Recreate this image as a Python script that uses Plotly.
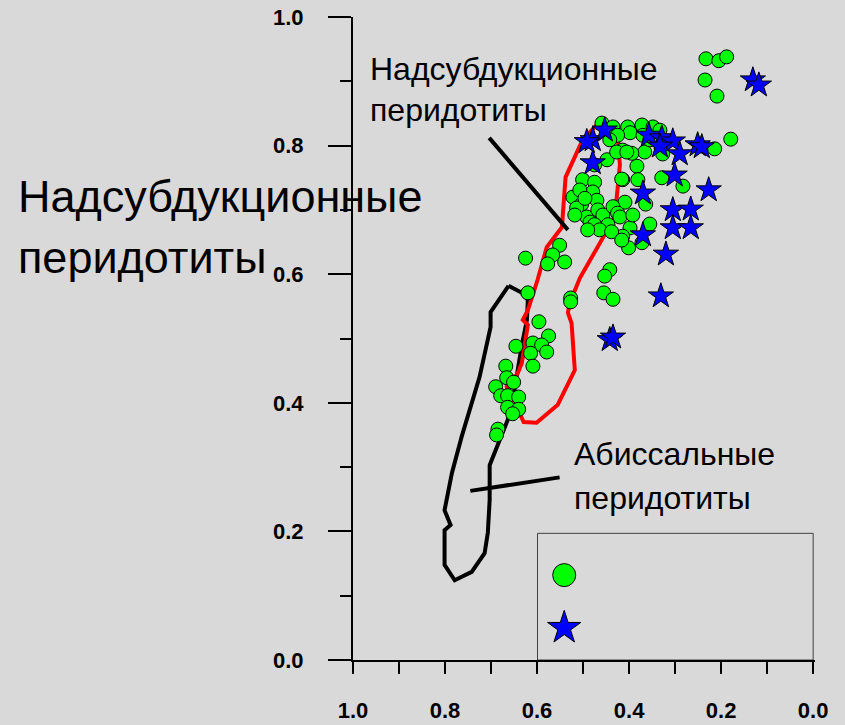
import plotly.graph_objects as go

# ---- data (x = first ratio, reversed axis; y = second ratio) ----
circle_x = [0.233, 0.205, 0.188, 0.235, 0.209, 0.179, 0.214, 0.283, 0.329, 0.364,
            0.355, 0.398, 0.414, 0.401, 0.372, 0.383, 0.414, 0.409, 0.366, 0.394,
            0.414, 0.403, 0.372, 0.348, 0.333, 0.398, 0.459, 0.435, 0.425, 0.370,
            0.448, 0.427, 0.405, 0.327, 0.416, 0.501, 0.475, 0.522, 0.503, 0.479,
            0.470, 0.514, 0.492, 0.485, 0.468, 0.457, 0.435, 0.425, 0.446, 0.420,
            0.442, 0.453, 0.551, 0.566, 0.577, 0.540, 0.625, 0.455, 0.435, 0.527,
            0.527, 0.620, 0.596, 0.575, 0.646, 0.609, 0.590, 0.579, 0.614, 0.609,
            0.668, 0.666, 0.651, 0.690, 0.679, 0.664, 0.640, 0.664, 0.640, 0.653,
            0.685, 0.688, 0.507, 0.496, 0.518, 0.475, 0.464, 0.438, 0.416, 0.392,
            0.381, 0.442, 0.355, 0.475, 0.490]
circle_y = [0.935, 0.932, 0.938, 0.902, 0.877, 0.810, 0.795, 0.737, 0.750, 0.709,
            0.678, 0.672, 0.659, 0.641, 0.649, 0.768, 0.747, 0.712, 0.790, 0.788,
            0.793, 0.829, 0.832, 0.829, 0.824, 0.820, 0.835, 0.829, 0.816, 0.816,
            0.778, 0.790, 0.790, 0.787, 0.748, 0.747, 0.743, 0.720, 0.709, 0.728,
            0.715, 0.703, 0.689, 0.681, 0.700, 0.692, 0.705, 0.695, 0.677, 0.689,
            0.607, 0.597, 0.645, 0.630, 0.616, 0.619, 0.625, 0.571, 0.561, 0.563,
            0.557, 0.571, 0.526, 0.504, 0.488, 0.493, 0.490, 0.479, 0.477, 0.457,
            0.457, 0.439, 0.432, 0.425, 0.411, 0.411, 0.409, 0.393, 0.390, 0.383,
            0.359, 0.350, 0.731, 0.718, 0.692, 0.677, 0.669, 0.666, 0.653, 0.692,
            0.747, 0.809, 0.809, 0.770, 0.669]

star_x = [0.131, 0.118, 0.479, 0.453, 0.479, 0.357, 0.329, 0.305, 0.290, 0.251,
          0.242, 0.301, 0.227, 0.370, 0.305, 0.266, 0.305, 0.266, 0.370, 0.320,
          0.331, 0.442, 0.435, 0.492, 0.333]
star_y = [0.902, 0.894, 0.809, 0.824, 0.773, 0.816, 0.812, 0.807, 0.787, 0.801,
          0.798, 0.754, 0.731, 0.726, 0.700, 0.701, 0.672, 0.672, 0.661, 0.631,
          0.566, 0.498, 0.502, 0.806, 0.799]

# field outlines
abyssal_x = [0.662, 0.633, 0.620, 0.622, 0.633, 0.642, 0.651, 0.664, 0.685, 0.703,
             0.703, 0.707, 0.714, 0.742, 0.779, 0.801, 0.801, 0.788, 0.801, 0.785,
             0.764, 0.725, 0.701, 0.701, 0.662]
abyssal_y = [0.582, 0.571, 0.560, 0.529, 0.490, 0.451, 0.412, 0.373, 0.334, 0.303,
             0.249, 0.198, 0.166, 0.137, 0.124, 0.148, 0.202, 0.210, 0.233, 0.291,
             0.347, 0.440, 0.518, 0.541, 0.582]
ssz_x = [0.501, 0.538, 0.546, 0.579, 0.599, 0.620, 0.631, 0.620, 0.633, 0.642,
         0.666, 0.638, 0.629, 0.601, 0.555, 0.518, 0.525, 0.533, 0.529, 0.507,
         0.457, 0.431, 0.420, 0.425, 0.464, 0.501]
ssz_y = [0.809, 0.751, 0.673, 0.642, 0.591, 0.544, 0.529, 0.521, 0.462, 0.446,
         0.425, 0.384, 0.370, 0.369, 0.397, 0.451, 0.524, 0.540, 0.555, 0.594,
         0.658, 0.689, 0.770, 0.817, 0.837, 0.809]

# label leader lines
leader_ssz_x = [0.704, 0.533]
leader_ssz_y = [0.812, 0.669]
leader_aby_x = [0.745, 0.551]
leader_aby_y = [0.263, 0.284]

# legend box and symbols
legend_box_x = [0.599, 0.0]
legend_box_y = [0.0, 0.197]
legend_circle = (0.541, 0.132)
legend_star = (0.541, 0.050)

x_ticks = [1.0, 0.8, 0.6, 0.4, 0.2, 0.0]
y_ticks = [0.0, 0.2, 0.4, 0.6, 0.8, 1.0]

label_top = ["Надсубдукционные", "перидотиты"]
label_bottom = ["Абиссальные", "перидотиты"]
label_left = ["Надсубдукционные", "перидотиты"]

GREEN = "#00ff00"
BLUE = "#0000ff"
BG = "#d9d9d9"
FONT = "Liberation Sans, Arial, sans-serif"

fig = go.Figure()

fig.add_trace(go.Scatter(x=abyssal_x, y=abyssal_y, mode="lines",
                         line=dict(color="black", width=4), hoverinfo="skip"))
fig.add_trace(go.Scatter(x=ssz_x, y=ssz_y, mode="lines",
                         line=dict(color="#ff0000", width=4), hoverinfo="skip"))
fig.add_trace(go.Scatter(x=leader_ssz_x, y=leader_ssz_y, mode="lines",
                         line=dict(color="black", width=4), hoverinfo="skip"))
fig.add_trace(go.Scatter(x=leader_aby_x, y=leader_aby_y, mode="lines",
                         line=dict(color="black", width=4), hoverinfo="skip"))

fig.add_trace(go.Scatter(x=circle_x, y=circle_y, mode="markers",
                         marker=dict(symbol="circle", size=14, color=GREEN,
                                     line=dict(color="black", width=1))))
fig.add_trace(go.Scatter(x=star_x, y=star_y, mode="markers",
                         marker=dict(symbol="star", size=19, color=BLUE,
                                     line=dict(color="black", width=1))))

# legend symbols
fig.add_trace(go.Scatter(x=[legend_circle[0]], y=[legend_circle[1]], mode="markers",
                         marker=dict(symbol="circle", size=23, color=GREEN,
                                     line=dict(color="black", width=1))))
fig.add_trace(go.Scatter(x=[legend_star[0]], y=[legend_star[1]], mode="markers",
                         marker=dict(symbol="star", size=25, color=BLUE,
                                     line=dict(color="black", width=1))))

fig.add_shape(type="rect", xref="x", yref="y",
              x0=legend_box_x[0], x1=legend_box_x[1],
              y0=legend_box_y[0], y1=legend_box_y[1],
              line=dict(color="#404040", width=1), layer="below")

# plot area: left 353, right 815, top 17, bottom 660 (pixels)
PL, PR, PT, PB = 353, 815, 17, 660

def add_label(text, px, py_center, size):
    fig.add_annotation(text=text, xref="paper", yref="paper",
                       x=(px - PL) / (PR - PL), y=(PB - py_center) / (PB - PT),
                       xanchor="left", yanchor="middle", showarrow=False,
                       font=dict(family=FONT, size=size, color="black"))

add_label(label_top[0], 368, 69, 32)
add_label(label_top[1], 368, 110, 32)
add_label(label_bottom[0], 572, 454, 32)
add_label(label_bottom[1], 572, 498, 32)
add_label(label_left[0], 16, 196, 45)
add_label(label_left[1], 16, 257, 45)

axis_common = dict(showgrid=False, zeroline=False, showline=True, linecolor="black",
                   linewidth=2, ticks="outside", tickcolor="black", tickwidth=2,
                   tickformat=".1f", tickmode="array", automargin=False,
                   tickfont=dict(family=FONT, size=22, color="black", weight="bold"))

fig.update_xaxes(range=[1.0, -0.004], tickvals=x_ticks, ticklen=12,
                 ticklabelstandoff=18,
                 minor=dict(dtick=0.1, tick0=0, ticks="outside", ticklen=12,
                            tickwidth=2, tickcolor="black", showgrid=False),
                 **axis_common)
fig.update_yaxes(range=[0.0, 1.0], tickvals=y_ticks, ticklen=23,
                 ticklabelstandoff=20,
                 minor=dict(dtick=0.1, tick0=0, ticks="outside", ticklen=11,
                            tickwidth=2, tickcolor="black", showgrid=False),
                 **axis_common)

fig.update_layout(width=845, height=725, showlegend=False,
                  paper_bgcolor=BG, plot_bgcolor=BG,
                  margin=dict(l=PL, r=845 - PR, t=PT, b=725 - PB, autoexpand=False))

fig.write_html("out.html",
               config={"displayModeBar": False},
               post_script="document.body.style.margin='0px';"
                           "document.body.style.overflow='hidden';")
